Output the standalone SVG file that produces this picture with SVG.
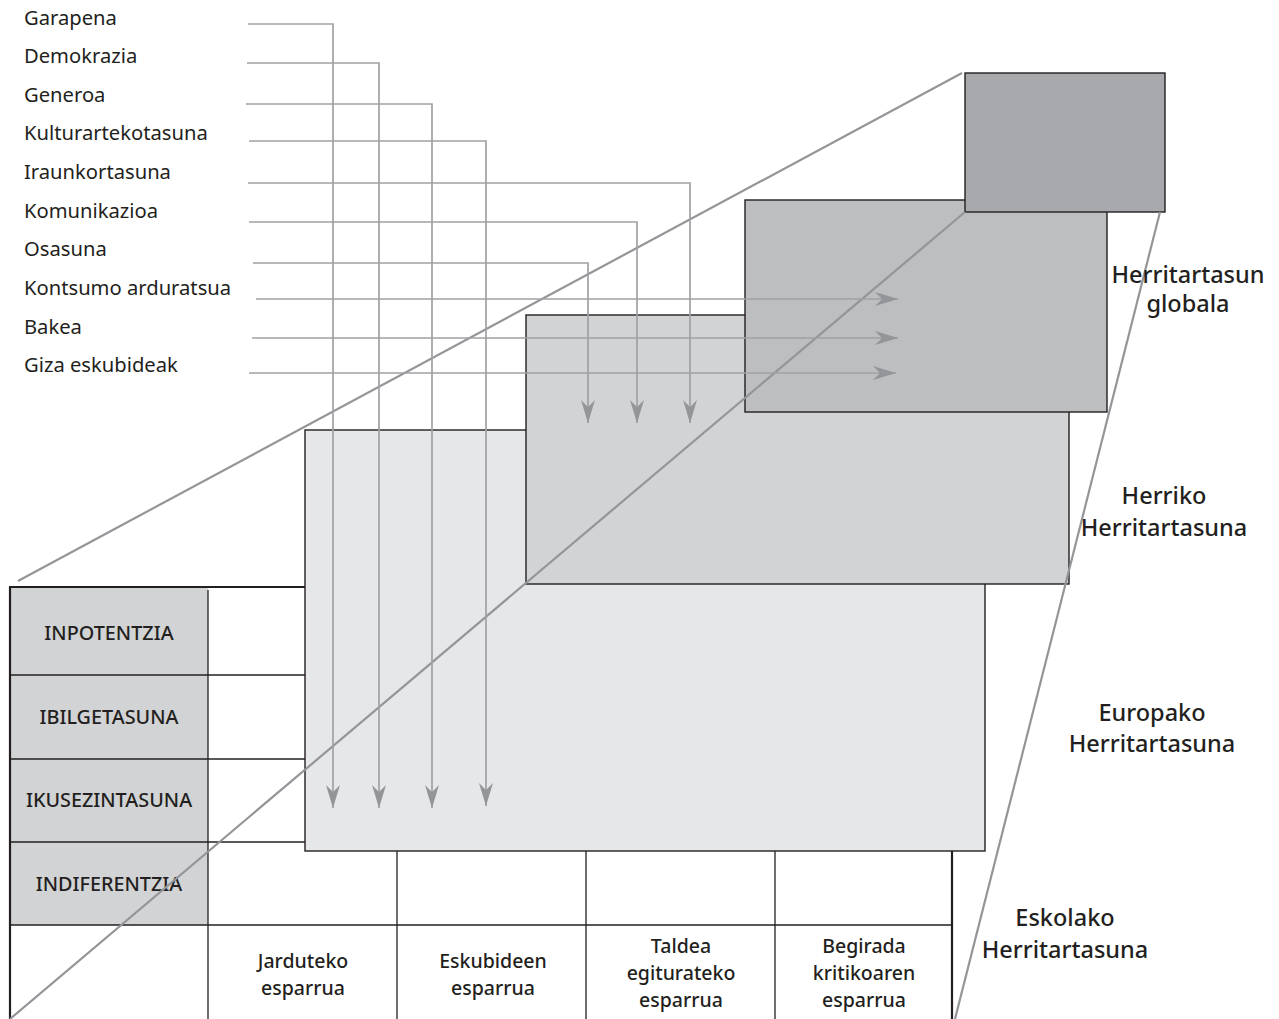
<svg xmlns="http://www.w3.org/2000/svg" width="1279" height="1019" viewBox="0 0 1279 1019">
<style>
.lbl{font-family:"Noto Sans","Open Sans",sans-serif;font-size:20.2px;fill:#231f20}
.cap{font-family:"Noto Sans","Open Sans",sans-serif;font-size:19.8px;font-weight:500;fill:#231f20;text-anchor:middle}
.col{font-family:"Noto Sans","Open Sans",sans-serif;font-size:19.5px;font-weight:500;fill:#231f20;text-anchor:middle}
.lvl{font-family:"Noto Sans","Open Sans",sans-serif;font-size:23.5px;font-weight:500;fill:#231f20;text-anchor:middle}
.box{stroke:#231f20;stroke-width:1.4}
.tl{stroke:#231f20;stroke-width:1.3;fill:none}
.tk{stroke:#231f20;stroke-width:2.2;fill:none}
.diag{stroke:#939598;stroke-width:2.2;fill:none}
.con{stroke:#a0a1a4;stroke-width:1.7;fill:none;marker-end:url(#ah)}
</style>
<defs>
<marker id="ah" viewBox="0 0 23 14" refX="23" refY="7" markerWidth="23" markerHeight="14" markerUnits="userSpaceOnUse" orient="auto">
<path d="M0,0 L23,7 L0,14 L7,7 Z" fill="#939598"/>
</marker>
</defs>
<rect width="1279" height="1019" fill="#ffffff"/>

<g id="table">
<rect x="10" y="588" width="198" height="337" fill="#d1d3d4"/>
<line class="tl" x1="208" y1="590" x2="208" y2="1019"/>
<line class="tl" x1="10" y1="675" x2="305" y2="675"/>
<line class="tl" x1="10" y1="759" x2="305" y2="759"/>
<line class="tl" x1="10" y1="842" x2="305" y2="842"/>
<line class="tl" x1="10" y1="925" x2="952" y2="925"/>
<line class="tl" x1="397" y1="851" x2="397" y2="1019"/>
<line class="tl" x1="586" y1="851" x2="586" y2="1019"/>
<line class="tl" x1="775" y1="851" x2="775" y2="1019"/>
<line class="tk" x1="952" y1="851" x2="952" y2="1019"/>
<line class="tk" x1="10" y1="1019" x2="10" y2="587"/>
<line class="tk" x1="9" y1="587" x2="305" y2="587"/>
<text class="cap" x="109" y="640">INPOTENTZIA</text>
<text class="cap" x="109" y="724">IBILGETASUNA</text>
<text class="cap" x="109" y="807">IKUSEZINTASUNA</text>
<text class="cap" x="109" y="891">INDIFERENTZIA</text>
<text class="col" x="303" y="968">Jarduteko</text>
<text class="col" x="303" y="995">esparrua</text>
<text class="col" x="493" y="968">Eskubideen</text>
<text class="col" x="493" y="995">esparrua</text>
<text class="col" x="681" y="953">Taldea</text>
<text class="col" x="681" y="980">egiturateko</text>
<text class="col" x="681" y="1007">esparrua</text>
<text class="col" x="864" y="953">Begirada</text>
<text class="col" x="864" y="980">kritikoaren</text>
<text class="col" x="864" y="1007">esparrua</text>
</g>

<g id="europako">
<rect class="box" x="305" y="430" width="680" height="421" fill="#e6e7e8"/>
</g>
<g id="herriko">
<rect class="box" x="526" y="315" width="543" height="269" fill="#d1d3d4"/>
</g>
<g id="global">
<rect class="box" x="745" y="200" width="362" height="212" fill="#bcbec0"/>
</g>
<g id="top">
<rect class="box" x="965" y="73" width="200" height="139" fill="#a7a9ac"/>
</g>

<g id="diagonals">
<line class="diag" x1="18" y1="581" x2="962" y2="73"/>
<line class="diag" x1="10" y1="1019" x2="965" y2="212"/>
<line class="diag" x1="1160" y1="212" x2="955" y2="1019"/>
</g>

<g id="levels">
<text class="lvl" x="1188" y="283">Herritartasun</text>
<text class="lvl" x="1188" y="312">globala</text>
<text class="lvl" x="1164" y="504">Herriko</text>
<text class="lvl" x="1164" y="536">Herritartasuna</text>
<text class="lvl" x="1152" y="721">Europako</text>
<text class="lvl" x="1152" y="752">Herritartasuna</text>
<text class="lvl" x="1065" y="926">Eskolako</text>
<text class="lvl" x="1065" y="958">Herritartasuna</text>
</g>

<g id="labels">
<text class="lbl" x="24" y="25">Garapena</text>
<text class="lbl" x="24" y="63">Demokrazia</text>
<text class="lbl" x="24" y="102">Generoa</text>
<text class="lbl" x="24" y="140">Kulturartekotasuna</text>
<text class="lbl" x="24" y="179">Iraunkortasuna</text>
<text class="lbl" x="24" y="218">Komunikazioa</text>
<text class="lbl" x="24" y="256">Osasuna</text>
<text class="lbl" x="24" y="295">Kontsumo arduratsua</text>
<text class="lbl" x="24" y="334">Bakea</text>
<text class="lbl" x="24" y="372">Giza eskubideak</text>
</g>

<g id="connectors">
<path class="con" d="M248,24 H333 V808"/>
<path class="con" d="M247,63 H379 V808"/>
<path class="con" d="M246,104 H432 V808"/>
<path class="con" d="M249,141 H486 V806"/>
<path class="con" d="M248,183 H690 V423"/>
<path class="con" d="M249,222 H637 V423"/>
<path class="con" d="M253,263 H588 V423"/>
<path class="con" d="M256,299 H898"/>
<path class="con" d="M252,338 H898"/>
<path class="con" d="M249,373 H896"/>
</g>
</svg>
